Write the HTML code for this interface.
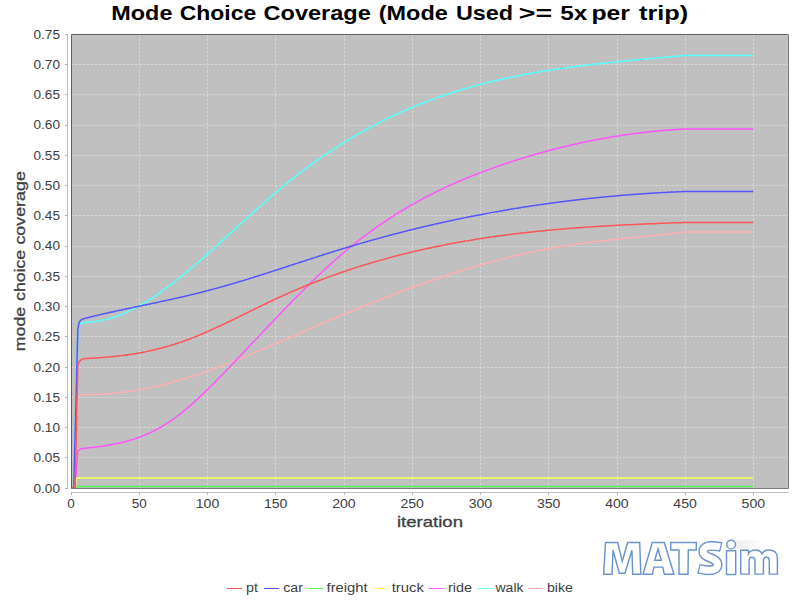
<!DOCTYPE html><html><head><meta charset="utf-8"><style>html,body{margin:0;padding:0;background:#fff;width:800px;height:600px;overflow:hidden}svg{display:block}text{font-family:"Liberation Sans",sans-serif}</style></head><body>
<svg width="800" height="600" viewBox="0 0 800 600">
<rect width="800" height="600" fill="#fff"/>
<g font-size="21" font-weight="bold" fill="#000">
<text x="111.36" y="20" textLength="61.02" lengthAdjust="spacingAndGlyphs">Mode</text>
<text x="179.78" y="20" textLength="76.48" lengthAdjust="spacingAndGlyphs">Choice</text>
<text x="263.62" y="20" textLength="107.18" lengthAdjust="spacingAndGlyphs">Coverage</text>
<text x="378.74" y="20" textLength="69.10" lengthAdjust="spacingAndGlyphs">(Mode</text>
<text x="455.90" y="20" textLength="57.20" lengthAdjust="spacingAndGlyphs">Used</text>
<text x="518.86" y="20" textLength="33.32" lengthAdjust="spacingAndGlyphs">&gt;=</text>
<text x="560.32" y="20" textLength="27.06" lengthAdjust="spacingAndGlyphs">5x</text>
<text x="591.48" y="20" textLength="38.52" lengthAdjust="spacingAndGlyphs">per</text>
<text x="639.08" y="20" textLength="49.18" lengthAdjust="spacingAndGlyphs">trip)</text>
</g>
<rect x="71" y="34" width="717" height="454" fill="#c0c0c0"/>
<path d="M71 457.5H788 M71 427.5H788 M71 397.5H788 M71 367.5H788 M71 336.5H788 M71 306.5H788 M71 276.5H788 M71 246.5H788 M71 215.5H788 M71 185.5H788 M71 155.5H788 M71 125.5H788 M71 94.5H788 M71 64.5H788 M71 34.5H788" stroke="#ffffff" stroke-opacity="0.45" stroke-width="1" stroke-dasharray="2 2" stroke-dashoffset="-0.4" fill="none"/>
<path d="M139.5 34V488 M207.5 34V488 M275.5 34V488 M344.5 34V488 M412.5 34V488 M480.5 34V488 M548.5 34V488 M617.5 34V488 M685.5 34V488 M753.5 34V488" stroke="#ffffff" stroke-opacity="0.45" stroke-width="1" stroke-dasharray="2 2" stroke-dashoffset="-0.6" fill="none"/>
<g fill="none" stroke-width="1.5" stroke-linejoin="round">
<polyline stroke="#ffafaf" points="71.00,488.00 75.09,488.00 77.82,398.41 79.19,396.29 80.55,395.38 81.92,394.96 84.65,394.48 86.01,394.49 87.38,394.50 88.74,394.50 90.11,394.49 91.47,394.48 92.84,394.45 94.20,394.43 95.57,394.39 96.93,394.34 98.30,394.29 99.66,394.23 101.02,394.17 102.39,394.10 103.75,394.02 105.12,393.93 106.48,393.84 107.85,393.75 109.21,393.65 110.58,393.54 111.94,393.42 113.31,393.30 114.67,393.17 116.04,393.04 117.40,392.90 118.77,392.75 120.13,392.60 121.50,392.43 122.86,392.27 124.23,392.09 125.59,391.91 126.96,391.73 128.32,391.53 129.68,391.34 131.05,391.13 132.41,390.92 133.78,390.70 135.14,390.48 136.51,390.25 137.87,390.01 139.24,389.77 140.60,389.53 141.97,389.27 143.33,389.02 144.70,388.75 146.06,388.48 147.43,388.21 148.79,387.92 150.16,387.64 151.52,387.35 152.89,387.05 154.25,386.75 155.62,386.44 156.98,386.12 158.34,385.80 159.71,385.48 161.07,385.15 162.44,384.82 163.80,384.48 165.17,384.13 166.53,383.78 167.90,383.43 169.26,383.07 170.63,382.70 171.99,382.34 173.36,381.96 174.72,381.58 176.09,381.20 177.45,380.81 178.82,380.42 180.18,380.02 181.55,379.62 182.91,379.21 184.28,378.80 185.64,378.39 187.00,377.97 188.37,377.55 189.73,377.12 191.10,376.69 192.46,376.25 193.83,375.81 195.19,375.37 196.56,374.92 197.92,374.47 199.29,374.01 200.65,373.55 202.02,373.09 203.38,372.62 204.75,372.15 206.11,371.67 207.48,371.19 208.84,370.71 210.21,370.23 211.57,369.74 212.94,369.24 214.30,368.75 215.66,368.25 217.03,367.74 218.39,367.24 219.76,366.73 221.12,366.22 222.49,365.70 223.85,365.18 225.22,364.66 226.58,364.13 227.95,363.61 229.31,363.08 230.68,362.54 232.04,362.00 233.41,361.46 234.77,360.92 236.14,360.38 237.50,359.83 238.87,359.28 240.23,358.73 241.60,358.17 242.96,357.61 244.32,357.06 245.69,356.49 247.05,355.93 248.42,355.36 249.78,354.79 251.15,354.22 252.51,353.65 253.88,353.08 255.24,352.50 256.61,351.93 257.97,351.35 259.34,350.77 260.70,350.19 262.07,349.60 263.43,349.02 264.80,348.43 266.16,347.85 267.53,347.26 268.89,346.67 270.26,346.08 271.62,345.49 272.98,344.90 274.35,344.31 275.71,343.71 277.08,343.12 278.44,342.52 279.81,341.93 281.17,341.34 282.54,340.74 283.90,340.14 285.27,339.55 286.63,338.95 288.00,338.36 289.36,337.76 290.73,337.16 292.09,336.57 293.46,335.97 294.82,335.38 296.19,334.78 297.55,334.19 298.92,333.59 300.28,333.00 301.64,332.40 303.01,331.81 304.37,331.22 305.74,330.63 307.10,330.04 308.47,329.45 309.83,328.86 311.20,328.27 312.56,327.68 313.93,327.09 315.29,326.51 316.66,325.92 318.02,325.33 319.39,324.75 320.75,324.16 322.12,323.58 323.48,323.00 324.85,322.42 326.21,321.83 327.58,321.25 328.94,320.68 330.30,320.10 331.67,319.52 333.03,318.94 334.40,318.37 335.76,317.79 337.13,317.22 338.49,316.64 339.86,316.07 341.22,315.50 342.59,314.93 343.95,314.36 345.32,313.79 346.68,313.23 348.05,312.66 349.41,312.09 350.78,311.53 352.14,310.97 353.51,310.40 354.87,309.84 356.24,309.28 357.60,308.73 358.96,308.17 360.33,307.61 361.69,307.06 363.06,306.50 364.42,305.95 365.79,305.40 367.15,304.85 368.52,304.30 369.88,303.75 371.25,303.21 372.61,302.66 373.98,302.12 375.34,301.58 376.71,301.03 378.07,300.50 379.44,299.96 380.80,299.42 382.17,298.88 383.53,298.35 384.90,297.82 386.26,297.29 387.62,296.76 388.99,296.23 390.35,295.70 391.72,295.18 393.08,294.65 394.45,294.13 395.81,293.61 397.18,293.09 398.54,292.57 399.91,292.06 401.27,291.54 402.64,291.03 404.00,290.52 405.37,290.01 406.73,289.50 408.10,289.00 409.46,288.49 410.83,287.99 412.19,287.49 413.56,286.99 414.92,286.50 416.28,286.00 417.65,285.51 419.01,285.01 420.38,284.52 421.74,284.04 423.11,283.55 424.47,283.07 425.84,282.58 427.20,282.10 428.57,281.62 429.93,281.15 431.30,280.67 432.66,280.20 434.03,279.73 435.39,279.26 436.76,278.79 438.12,278.33 439.49,277.86 440.85,277.40 442.22,276.94 443.58,276.49 444.94,276.03 446.31,275.58 447.67,275.13 449.04,274.68 450.40,274.23 451.77,273.79 453.13,273.35 454.50,272.91 455.86,272.47 457.23,272.04 458.59,271.60 459.96,271.17 461.32,270.74 462.69,270.32 464.05,269.89 465.42,269.47 466.78,269.05 468.15,268.64 469.51,268.22 470.88,267.81 472.24,267.40 473.60,266.99 474.97,266.59 476.33,266.18 477.70,265.78 479.06,265.39 480.43,264.99 481.79,264.60 483.16,264.21 484.52,263.82 485.89,263.44 487.25,263.05 488.62,262.67 489.98,262.30 491.35,261.92 492.71,261.55 494.08,261.18 495.44,260.81 496.81,260.45 498.17,260.09 499.54,259.73 500.90,259.37 502.26,259.02 503.63,258.67 504.99,258.32 506.36,257.97 507.72,257.63 509.09,257.29 510.45,256.95 511.82,256.62 513.18,256.29 514.55,255.96 515.91,255.63 517.28,255.31 518.64,254.99 520.01,254.67 521.37,254.36 522.74,254.05 524.10,253.74 525.47,253.43 526.83,253.13 528.20,252.83 529.56,252.53 530.92,252.24 532.29,251.95 533.65,251.66 535.02,251.38 536.38,251.10 537.75,250.82 539.11,250.54 540.48,250.27 541.84,250.00 543.21,249.74 544.57,249.48 545.94,249.22 547.30,248.96 548.67,248.71 550.03,248.46 551.40,248.21 552.76,247.97 554.13,247.73 555.49,247.49 556.86,247.26 558.22,247.03 559.58,246.80 560.95,246.57 562.31,246.35 563.68,246.13 565.04,245.91 566.41,245.70 567.77,245.49 569.14,245.28 570.50,245.07 571.87,244.87 573.23,244.66 574.60,244.47 575.96,244.27 577.33,244.07 578.69,243.88 580.06,243.69 581.42,243.50 582.79,243.32 584.15,243.13 585.52,242.95 586.88,242.77 588.24,242.59 589.61,242.42 590.97,242.24 592.34,242.07 593.70,241.90 595.07,241.73 596.43,241.56 597.80,241.40 599.16,241.23 600.53,241.07 601.89,240.91 603.26,240.75 604.62,240.59 605.99,240.43 607.35,240.27 608.72,240.12 610.08,239.97 611.45,239.81 612.81,239.66 614.18,239.51 615.54,239.36 616.90,239.21 618.27,239.07 619.63,238.92 621.00,238.77 622.36,238.63 623.73,238.49 625.09,238.34 626.46,238.20 627.82,238.06 629.19,237.91 630.55,237.77 631.92,237.63 633.28,237.49 634.65,237.35 636.01,237.21 637.38,237.07 638.74,236.93 640.11,236.79 641.47,236.66 642.84,236.52 644.20,236.38 645.56,236.24 646.93,236.10 648.29,235.96 649.66,235.82 651.02,235.68 652.39,235.54 653.75,235.40 655.12,235.26 656.48,235.12 657.85,234.98 659.21,234.84 660.58,234.70 661.94,234.56 663.31,234.41 664.67,234.27 666.04,234.13 667.40,233.98 668.77,233.83 670.13,233.69 671.50,233.54 672.86,233.39 674.22,233.24 675.59,233.09 676.95,232.94 678.32,232.79 679.68,232.63 681.05,232.48 682.41,232.32 683.78,232.16 685.14,232.00 753.38,232.00"/>
<polyline stroke="#55ffff" points="71.00,488.00 73.73,488.00 77.82,329.40 79.19,324.86 80.55,323.65 81.92,323.05 84.65,322.32 86.01,322.30 87.38,322.26 88.74,322.20 90.11,322.11 91.47,322.00 92.84,321.87 94.20,321.71 95.57,321.54 96.93,321.34 98.30,321.12 99.66,320.88 101.02,320.61 102.39,320.33 103.75,320.02 105.12,319.70 106.48,319.37 107.85,319.01 109.21,318.64 110.58,318.25 111.94,317.83 113.31,317.40 114.67,316.95 116.04,316.48 117.40,315.99 118.77,315.49 120.13,314.96 121.50,314.42 122.86,313.86 124.23,313.28 125.59,312.69 126.96,312.08 128.32,311.45 129.68,310.80 131.05,310.14 132.41,309.46 133.78,308.77 135.14,308.06 136.51,307.33 137.87,306.59 139.24,305.84 140.60,305.07 141.97,304.28 143.33,303.48 144.70,302.67 146.06,301.84 147.43,301.00 148.79,300.15 150.16,299.28 151.52,298.40 152.89,297.51 154.25,296.60 155.62,295.68 156.98,294.75 158.34,293.81 159.71,292.85 161.07,291.89 162.44,290.91 163.80,289.92 165.17,288.92 166.53,287.92 167.90,286.90 169.26,285.87 170.63,284.83 171.99,283.78 173.36,282.72 174.72,281.65 176.09,280.57 177.45,279.49 178.82,278.39 180.18,277.29 181.55,276.18 182.91,275.07 184.28,273.94 185.64,272.81 187.00,271.67 188.37,270.52 189.73,269.37 191.10,268.21 192.46,267.05 193.83,265.88 195.19,264.70 196.56,263.52 197.92,262.33 199.29,261.14 200.65,259.95 202.02,258.75 203.38,257.54 204.75,256.33 206.11,255.12 207.48,253.90 208.84,252.69 210.21,251.46 211.57,250.24 212.94,249.01 214.30,247.78 215.66,246.55 217.03,245.32 218.39,244.08 219.76,242.84 221.12,241.60 222.49,240.36 223.85,239.12 225.22,237.88 226.58,236.63 227.95,235.39 229.31,234.14 230.68,232.89 232.04,231.65 233.41,230.40 234.77,229.15 236.14,227.91 237.50,226.66 238.87,225.42 240.23,224.17 241.60,222.93 242.96,221.68 244.32,220.44 245.69,219.20 247.05,217.97 248.42,216.73 249.78,215.49 251.15,214.26 252.51,213.03 253.88,211.81 255.24,210.58 256.61,209.36 257.97,208.14 259.34,206.92 260.70,205.71 262.07,204.50 263.43,203.30 264.80,202.10 266.16,200.90 267.53,199.71 268.89,198.52 270.26,197.34 271.62,196.16 272.98,194.98 274.35,193.81 275.71,192.65 277.08,191.49 278.44,190.34 279.81,189.19 281.17,188.05 282.54,186.91 283.90,185.79 285.27,184.66 286.63,183.55 288.00,182.44 289.36,181.34 290.73,180.24 292.09,179.15 293.46,178.07 294.82,176.99 296.19,175.92 297.55,174.86 298.92,173.81 300.28,172.76 301.64,171.71 303.01,170.68 304.37,169.65 305.74,168.62 307.10,167.61 308.47,166.60 309.83,165.59 311.20,164.60 312.56,163.60 313.93,162.62 315.29,161.64 316.66,160.67 318.02,159.70 319.39,158.74 320.75,157.79 322.12,156.84 323.48,155.90 324.85,154.97 326.21,154.04 327.58,153.12 328.94,152.20 330.30,151.29 331.67,150.39 333.03,149.49 334.40,148.60 335.76,147.72 337.13,146.84 338.49,145.97 339.86,145.10 341.22,144.24 342.59,143.38 343.95,142.54 345.32,141.69 346.68,140.86 348.05,140.03 349.41,139.20 350.78,138.38 352.14,137.57 353.51,136.76 354.87,135.96 356.24,135.17 357.60,134.38 358.96,133.59 360.33,132.82 361.69,132.05 363.06,131.28 364.42,130.52 365.79,129.77 367.15,129.02 368.52,128.27 369.88,127.54 371.25,126.80 372.61,126.08 373.98,125.36 375.34,124.64 376.71,123.94 378.07,123.23 379.44,122.53 380.80,121.84 382.17,121.15 383.53,120.47 384.90,119.80 386.26,119.13 387.62,118.46 388.99,117.80 390.35,117.15 391.72,116.50 393.08,115.86 394.45,115.22 395.81,114.58 397.18,113.96 398.54,113.33 399.91,112.72 401.27,112.10 402.64,111.50 404.00,110.89 405.37,110.30 406.73,109.70 408.10,109.12 409.46,108.53 410.83,107.96 412.19,107.38 413.56,106.82 414.92,106.25 416.28,105.70 417.65,105.14 419.01,104.59 420.38,104.05 421.74,103.51 423.11,102.98 424.47,102.45 425.84,101.92 427.20,101.40 428.57,100.89 429.93,100.38 431.30,99.87 432.66,99.37 434.03,98.87 435.39,98.38 436.76,97.89 438.12,97.40 439.49,96.92 440.85,96.45 442.22,95.98 443.58,95.51 444.94,95.05 446.31,94.59 447.67,94.14 449.04,93.69 450.40,93.24 451.77,92.80 453.13,92.36 454.50,91.93 455.86,91.50 457.23,91.07 458.59,90.65 459.96,90.23 461.32,89.82 462.69,89.41 464.05,89.01 465.42,88.60 466.78,88.21 468.15,87.81 469.51,87.42 470.88,87.04 472.24,86.65 473.60,86.27 474.97,85.90 476.33,85.53 477.70,85.16 479.06,84.79 480.43,84.43 481.79,84.08 483.16,83.72 484.52,83.37 485.89,83.03 487.25,82.68 488.62,82.34 489.98,82.01 491.35,81.67 492.71,81.34 494.08,81.02 495.44,80.69 496.81,80.37 498.17,80.06 499.54,79.74 500.90,79.43 502.26,79.12 503.63,78.82 504.99,78.52 506.36,78.22 507.72,77.93 509.09,77.63 510.45,77.35 511.82,77.06 513.18,76.78 514.55,76.50 515.91,76.22 517.28,75.94 518.64,75.67 520.01,75.40 521.37,75.14 522.74,74.87 524.10,74.61 525.47,74.36 526.83,74.10 528.20,73.85 529.56,73.60 530.92,73.35 532.29,73.11 533.65,72.86 535.02,72.62 536.38,72.39 537.75,72.15 539.11,71.92 540.48,71.69 541.84,71.46 543.21,71.24 544.57,71.01 545.94,70.79 547.30,70.58 548.67,70.36 550.03,70.15 551.40,69.93 552.76,69.72 554.13,69.52 555.49,69.31 556.86,69.11 558.22,68.91 559.58,68.71 560.95,68.51 562.31,68.31 563.68,68.12 565.04,67.93 566.41,67.74 567.77,67.55 569.14,67.37 570.50,67.18 571.87,67.00 573.23,66.82 574.60,66.64 575.96,66.47 577.33,66.29 578.69,66.12 580.06,65.94 581.42,65.77 582.79,65.60 584.15,65.44 585.52,65.27 586.88,65.11 588.24,64.94 589.61,64.78 590.97,64.62 592.34,64.47 593.70,64.31 595.07,64.15 596.43,64.00 597.80,63.85 599.16,63.69 600.53,63.54 601.89,63.39 603.26,63.25 604.62,63.10 605.99,62.95 607.35,62.81 608.72,62.67 610.08,62.52 611.45,62.38 612.81,62.24 614.18,62.10 615.54,61.96 616.90,61.82 618.27,61.69 619.63,61.55 621.00,61.42 622.36,61.28 623.73,61.15 625.09,61.01 626.46,60.88 627.82,60.75 629.19,60.62 630.55,60.49 631.92,60.36 633.28,60.23 634.65,60.10 636.01,59.97 637.38,59.85 638.74,59.72 640.11,59.59 641.47,59.47 642.84,59.34 644.20,59.22 645.56,59.09 646.93,58.97 648.29,58.84 649.66,58.72 651.02,58.59 652.39,58.47 653.75,58.35 655.12,58.22 656.48,58.10 657.85,57.97 659.21,57.85 660.58,57.73 661.94,57.61 663.31,57.48 664.67,57.36 666.04,57.24 667.40,57.11 668.77,56.99 670.13,56.87 671.50,56.74 672.86,56.62 674.22,56.49 675.59,56.37 676.95,56.24 678.32,56.12 679.68,55.99 681.05,55.87 682.41,55.74 683.78,55.62 685.14,55.49 753.38,55.49"/>
<polyline stroke="#ff55ff" points="71.00,488.00 75.09,488.00 77.82,451.38 79.19,449.86 80.55,449.08 81.92,448.65 84.65,448.29 86.01,448.14 87.38,448.00 88.74,447.85 90.11,447.69 91.47,447.54 92.84,447.38 94.20,447.22 95.57,447.05 96.93,446.88 98.30,446.70 99.66,446.52 101.02,446.33 102.39,446.14 103.75,445.94 105.12,445.73 106.48,445.52 107.85,445.30 109.21,445.07 110.58,444.83 111.94,444.59 113.31,444.33 114.67,444.07 116.04,443.79 117.40,443.51 118.77,443.21 120.13,442.90 121.50,442.58 122.86,442.26 124.23,441.91 125.59,441.56 126.96,441.19 128.32,440.81 129.68,440.42 131.05,440.02 132.41,439.60 133.78,439.16 135.14,438.71 136.51,438.25 137.87,437.77 139.24,437.28 140.60,436.77 141.97,436.24 143.33,435.70 144.70,435.14 146.06,434.56 147.43,433.97 148.79,433.36 150.16,432.73 151.52,432.08 152.89,431.42 154.25,430.73 155.62,430.03 156.98,429.30 158.34,428.56 159.71,427.79 161.07,427.01 162.44,426.20 163.80,425.37 165.17,424.52 166.53,423.65 167.90,422.76 169.26,421.85 170.63,420.92 171.99,419.97 173.36,419.00 174.72,418.01 176.09,417.00 177.45,415.98 178.82,414.93 180.18,413.87 181.55,412.79 182.91,411.70 184.28,410.59 185.64,409.46 187.00,408.32 188.37,407.17 189.73,405.99 191.10,404.81 192.46,403.61 193.83,402.40 195.19,401.17 196.56,399.93 197.92,398.68 199.29,397.42 200.65,396.14 202.02,394.86 203.38,393.56 204.75,392.26 206.11,390.94 207.48,389.61 208.84,388.28 210.21,386.93 211.57,385.58 212.94,384.22 214.30,382.85 215.66,381.48 217.03,380.10 218.39,378.71 219.76,377.31 221.12,375.91 222.49,374.51 223.85,373.10 225.22,371.68 226.58,370.26 227.95,368.84 229.31,367.41 230.68,365.98 232.04,364.55 233.41,363.12 234.77,361.68 236.14,360.24 237.50,358.80 238.87,357.36 240.23,355.92 241.60,354.48 242.96,353.03 244.32,351.59 245.69,350.14 247.05,348.70 248.42,347.25 249.78,345.80 251.15,344.35 252.51,342.91 253.88,341.46 255.24,340.01 256.61,338.56 257.97,337.12 259.34,335.67 260.70,334.22 262.07,332.78 263.43,331.33 264.80,329.89 266.16,328.45 267.53,327.01 268.89,325.57 270.26,324.13 271.62,322.70 272.98,321.26 274.35,319.83 275.71,318.40 277.08,316.97 278.44,315.55 279.81,314.12 281.17,312.70 282.54,311.29 283.90,309.87 285.27,308.46 286.63,307.05 288.00,305.65 289.36,304.24 290.73,302.84 292.09,301.45 293.46,300.06 294.82,298.67 296.19,297.29 297.55,295.91 298.92,294.54 300.28,293.17 301.64,291.80 303.01,290.44 304.37,289.08 305.74,287.73 307.10,286.39 308.47,285.05 309.83,283.71 311.20,282.38 312.56,281.06 313.93,279.74 315.29,278.43 316.66,277.12 318.02,275.82 319.39,274.52 320.75,273.24 322.12,271.95 323.48,270.68 324.85,269.41 326.21,268.15 327.58,266.90 328.94,265.65 330.30,264.41 331.67,263.18 333.03,261.96 334.40,260.74 335.76,259.53 337.13,258.33 338.49,257.14 339.86,255.95 341.22,254.78 342.59,253.61 343.95,252.45 345.32,251.30 346.68,250.16 348.05,249.02 349.41,247.90 350.78,246.78 352.14,245.68 353.51,244.58 354.87,243.49 356.24,242.40 357.60,241.33 358.96,240.26 360.33,239.21 361.69,238.16 363.06,237.12 364.42,236.08 365.79,235.06 367.15,234.04 368.52,233.03 369.88,232.03 371.25,231.04 372.61,230.05 373.98,229.07 375.34,228.10 376.71,227.14 378.07,226.19 379.44,225.24 380.80,224.30 382.17,223.37 383.53,222.44 384.90,221.52 386.26,220.61 387.62,219.71 388.99,218.81 390.35,217.92 391.72,217.04 393.08,216.17 394.45,215.30 395.81,214.44 397.18,213.58 398.54,212.74 399.91,211.90 401.27,211.06 402.64,210.24 404.00,209.42 405.37,208.60 406.73,207.80 408.10,207.00 409.46,206.20 410.83,205.41 412.19,204.63 413.56,203.86 414.92,203.09 416.28,202.33 417.65,201.57 419.01,200.82 420.38,200.08 421.74,199.34 423.11,198.61 424.47,197.88 425.84,197.16 427.20,196.45 428.57,195.74 429.93,195.04 431.30,194.34 432.66,193.65 434.03,192.96 435.39,192.28 436.76,191.61 438.12,190.94 439.49,190.28 440.85,189.62 442.22,188.97 443.58,188.32 444.94,187.68 446.31,187.04 447.67,186.41 449.04,185.78 450.40,185.16 451.77,184.54 453.13,183.93 454.50,183.32 455.86,182.72 457.23,182.12 458.59,181.53 459.96,180.94 461.32,180.36 462.69,179.78 464.05,179.20 465.42,178.63 466.78,178.07 468.15,177.51 469.51,176.95 470.88,176.40 472.24,175.85 473.60,175.30 474.97,174.76 476.33,174.23 477.70,173.70 479.06,173.17 480.43,172.65 481.79,172.13 483.16,171.61 484.52,171.10 485.89,170.59 487.25,170.09 488.62,169.58 489.98,169.09 491.35,168.59 492.71,168.10 494.08,167.62 495.44,167.13 496.81,166.65 498.17,166.18 499.54,165.70 500.90,165.23 502.26,164.77 503.63,164.30 504.99,163.84 506.36,163.39 507.72,162.93 509.09,162.48 510.45,162.03 511.82,161.59 513.18,161.14 514.55,160.70 515.91,160.27 517.28,159.83 518.64,159.40 520.01,158.97 521.37,158.55 522.74,158.13 524.10,157.71 525.47,157.29 526.83,156.88 528.20,156.47 529.56,156.06 530.92,155.66 532.29,155.26 533.65,154.86 535.02,154.46 536.38,154.07 537.75,153.68 539.11,153.30 540.48,152.91 541.84,152.53 543.21,152.15 544.57,151.78 545.94,151.41 547.30,151.04 548.67,150.67 550.03,150.31 551.40,149.95 552.76,149.59 554.13,149.24 555.49,148.89 556.86,148.54 558.22,148.19 559.58,147.85 560.95,147.51 562.31,147.18 563.68,146.84 565.04,146.51 566.41,146.19 567.77,145.86 569.14,145.54 570.50,145.22 571.87,144.91 573.23,144.59 574.60,144.28 575.96,143.98 577.33,143.67 578.69,143.37 580.06,143.07 581.42,142.78 582.79,142.49 584.15,142.20 585.52,141.91 586.88,141.63 588.24,141.35 589.61,141.07 590.97,140.80 592.34,140.52 593.70,140.26 595.07,139.99 596.43,139.73 597.80,139.47 599.16,139.21 600.53,138.96 601.89,138.71 603.26,138.46 604.62,138.21 605.99,137.97 607.35,137.73 608.72,137.50 610.08,137.26 611.45,137.03 612.81,136.80 614.18,136.58 615.54,136.36 616.90,136.14 618.27,135.92 619.63,135.71 621.00,135.50 622.36,135.30 623.73,135.09 625.09,134.89 626.46,134.69 627.82,134.50 629.19,134.31 630.55,134.12 631.92,133.93 633.28,133.75 634.65,133.57 636.01,133.39 637.38,133.22 638.74,133.05 640.11,132.88 641.47,132.71 642.84,132.55 644.20,132.39 645.56,132.23 646.93,132.08 648.29,131.93 649.66,131.78 651.02,131.64 652.39,131.50 653.75,131.36 655.12,131.22 656.48,131.09 657.85,130.96 659.21,130.83 660.58,130.71 661.94,130.59 663.31,130.47 664.67,130.35 666.04,130.24 667.40,130.13 668.77,130.02 670.13,129.92 671.50,129.82 672.86,129.72 674.22,129.63 675.59,129.54 676.95,129.45 678.32,129.36 679.68,129.28 681.05,129.20 682.41,129.12 683.78,129.05 685.14,128.98 753.38,128.98"/>
<polyline stroke="#ffff55" points="71.00,488.00 75.09,488.00 76.46,478.00 753.38,478.00"/>
<polyline stroke="#55ff55" points="71.00,488.00 75.09,488.00 76.46,486.50 753.38,486.50"/>
<polyline stroke="#5555ff" points="71.00,488.00 73.73,488.00 77.82,329.40 79.19,322.44 80.55,320.44 81.92,319.41 84.65,318.45 86.01,318.10 87.38,317.76 88.74,317.42 90.11,317.09 91.47,316.75 92.84,316.42 94.20,316.09 95.57,315.76 96.93,315.43 98.30,315.11 99.66,314.78 101.02,314.46 102.39,314.14 103.75,313.82 105.12,313.50 106.48,313.20 107.85,312.90 109.21,312.60 110.58,312.30 111.94,312.00 113.31,311.70 114.67,311.41 116.04,311.11 117.40,310.82 118.77,310.52 120.13,310.23 121.50,309.94 122.86,309.65 124.23,309.36 125.59,309.07 126.96,308.78 128.32,308.49 129.68,308.21 131.05,307.92 132.41,307.63 133.78,307.34 135.14,307.06 136.51,306.77 137.87,306.48 139.24,306.20 140.60,305.91 141.97,305.62 143.33,305.34 144.70,305.05 146.06,304.76 147.43,304.48 148.79,304.19 150.16,303.90 151.52,303.61 152.89,303.32 154.25,303.03 155.62,302.74 156.98,302.45 158.34,302.16 159.71,301.87 161.07,301.57 162.44,301.28 163.80,300.98 165.17,300.69 166.53,300.39 167.90,300.09 169.26,299.79 170.63,299.49 171.99,299.19 173.36,298.89 174.72,298.58 176.09,298.28 177.45,297.97 178.82,297.66 180.18,297.35 181.55,297.03 182.91,296.72 184.28,296.40 185.64,296.09 187.00,295.77 188.37,295.44 189.73,295.12 191.10,294.79 192.46,294.46 193.83,294.13 195.19,293.80 196.56,293.47 197.92,293.13 199.29,292.79 200.65,292.45 202.02,292.10 203.38,291.76 204.75,291.41 206.11,291.05 207.48,290.70 208.84,290.34 210.21,289.98 211.57,289.61 212.94,289.25 214.30,288.88 215.66,288.51 217.03,288.13 218.39,287.76 219.76,287.38 221.12,287.00 222.49,286.61 223.85,286.23 225.22,285.84 226.58,285.45 227.95,285.05 229.31,284.66 230.68,284.26 232.04,283.86 233.41,283.46 234.77,283.06 236.14,282.65 237.50,282.25 238.87,281.84 240.23,281.43 241.60,281.02 242.96,280.60 244.32,280.19 245.69,279.77 247.05,279.35 248.42,278.93 249.78,278.51 251.15,278.09 252.51,277.66 253.88,277.23 255.24,276.81 256.61,276.38 257.97,275.95 259.34,275.52 260.70,275.09 262.07,274.65 263.43,274.22 264.80,273.78 266.16,273.35 267.53,272.91 268.89,272.47 270.26,272.04 271.62,271.60 272.98,271.16 274.35,270.71 275.71,270.27 277.08,269.83 278.44,269.39 279.81,268.95 281.17,268.50 282.54,268.06 283.90,267.61 285.27,267.17 286.63,266.72 288.00,266.28 289.36,265.83 290.73,265.39 292.09,264.94 293.46,264.50 294.82,264.05 296.19,263.61 297.55,263.16 298.92,262.72 300.28,262.27 301.64,261.83 303.01,261.38 304.37,260.94 305.74,260.49 307.10,260.05 308.47,259.60 309.83,259.16 311.20,258.72 312.56,258.28 313.93,257.84 315.29,257.40 316.66,256.96 318.02,256.52 319.39,256.08 320.75,255.64 322.12,255.20 323.48,254.77 324.85,254.33 326.21,253.90 327.58,253.47 328.94,253.04 330.30,252.60 331.67,252.18 333.03,251.75 334.40,251.32 335.76,250.89 337.13,250.47 338.49,250.05 339.86,249.63 341.22,249.21 342.59,248.79 343.95,248.37 345.32,247.96 346.68,247.54 348.05,247.13 349.41,246.72 350.78,246.31 352.14,245.91 353.51,245.50 354.87,245.10 356.24,244.69 357.60,244.29 358.96,243.89 360.33,243.50 361.69,243.10 363.06,242.71 364.42,242.31 365.79,241.92 367.15,241.53 368.52,241.15 369.88,240.76 371.25,240.38 372.61,239.99 373.98,239.61 375.34,239.23 376.71,238.85 378.07,238.48 379.44,238.10 380.80,237.73 382.17,237.36 383.53,236.99 384.90,236.62 386.26,236.25 387.62,235.88 388.99,235.52 390.35,235.16 391.72,234.80 393.08,234.44 394.45,234.08 395.81,233.72 397.18,233.37 398.54,233.02 399.91,232.67 401.27,232.32 402.64,231.97 404.00,231.62 405.37,231.28 406.73,230.93 408.10,230.59 409.46,230.25 410.83,229.91 412.19,229.57 413.56,229.24 414.92,228.90 416.28,228.57 417.65,228.24 419.01,227.91 420.38,227.58 421.74,227.26 423.11,226.93 424.47,226.61 425.84,226.29 427.20,225.97 428.57,225.65 429.93,225.33 431.30,225.01 432.66,224.70 434.03,224.39 435.39,224.08 436.76,223.77 438.12,223.46 439.49,223.15 440.85,222.85 442.22,222.54 443.58,222.24 444.94,221.94 446.31,221.64 447.67,221.34 449.04,221.05 450.40,220.75 451.77,220.46 453.13,220.17 454.50,219.88 455.86,219.59 457.23,219.31 458.59,219.02 459.96,218.74 461.32,218.45 462.69,218.17 464.05,217.89 465.42,217.62 466.78,217.34 468.15,217.07 469.51,216.79 470.88,216.52 472.24,216.25 473.60,215.98 474.97,215.71 476.33,215.45 477.70,215.18 479.06,214.92 480.43,214.66 481.79,214.40 483.16,214.14 484.52,213.89 485.89,213.63 487.25,213.38 488.62,213.12 489.98,212.87 491.35,212.62 492.71,212.38 494.08,212.13 495.44,211.88 496.81,211.64 498.17,211.40 499.54,211.16 500.90,210.92 502.26,210.68 503.63,210.44 504.99,210.21 506.36,209.98 507.72,209.74 509.09,209.51 510.45,209.29 511.82,209.06 513.18,208.83 514.55,208.61 515.91,208.38 517.28,208.16 518.64,207.94 520.01,207.72 521.37,207.51 522.74,207.29 524.10,207.08 525.47,206.86 526.83,206.65 528.20,206.44 529.56,206.23 530.92,206.03 532.29,205.82 533.65,205.62 535.02,205.41 536.38,205.21 537.75,205.01 539.11,204.81 540.48,204.62 541.84,204.42 543.21,204.23 544.57,204.03 545.94,203.84 547.30,203.65 548.67,203.46 550.03,203.28 551.40,203.09 552.76,202.91 554.13,202.72 555.49,202.54 556.86,202.36 558.22,202.18 559.58,202.00 560.95,201.83 562.31,201.65 563.68,201.48 565.04,201.31 566.41,201.14 567.77,200.97 569.14,200.80 570.50,200.64 571.87,200.47 573.23,200.31 574.60,200.15 575.96,199.99 577.33,199.83 578.69,199.67 580.06,199.51 581.42,199.36 582.79,199.20 584.15,199.05 585.52,198.90 586.88,198.75 588.24,198.60 589.61,198.46 590.97,198.31 592.34,198.17 593.70,198.02 595.07,197.88 596.43,197.74 597.80,197.60 599.16,197.47 600.53,197.33 601.89,197.19 603.26,197.06 604.62,196.93 605.99,196.80 607.35,196.67 608.72,196.54 610.08,196.41 611.45,196.29 612.81,196.17 614.18,196.04 615.54,195.92 616.90,195.80 618.27,195.68 619.63,195.57 621.00,195.45 622.36,195.34 623.73,195.22 625.09,195.11 626.46,195.00 627.82,194.89 629.19,194.79 630.55,194.68 631.92,194.57 633.28,194.47 634.65,194.37 636.01,194.27 637.38,194.17 638.74,194.07 640.11,193.97 641.47,193.88 642.84,193.78 644.20,193.69 645.56,193.60 646.93,193.51 648.29,193.42 649.66,193.33 651.02,193.24 652.39,193.16 653.75,193.07 655.12,192.99 656.48,192.91 657.85,192.83 659.21,192.75 660.58,192.68 661.94,192.60 663.31,192.53 664.67,192.45 666.04,192.38 667.40,192.31 668.77,192.24 670.13,192.17 671.50,192.10 672.86,192.04 674.22,191.98 675.59,191.91 676.95,191.85 678.32,191.79 679.68,191.73 681.05,191.67 682.41,191.62 683.78,191.56 685.14,191.51 753.38,191.51"/>
<polyline stroke="#ff5555" points="71.00,488.00 75.09,488.00 77.82,365.12 79.19,361.79 80.55,360.15 81.92,359.37 84.65,358.58 86.01,358.52 87.38,358.46 88.74,358.39 90.11,358.32 91.47,358.25 92.84,358.17 94.20,358.09 95.57,358.00 96.93,357.91 98.30,357.81 99.66,357.71 101.02,357.61 102.39,357.50 103.75,357.39 105.12,357.27 106.48,357.16 107.85,357.05 109.21,356.93 110.58,356.81 111.94,356.68 113.31,356.54 114.67,356.40 116.04,356.26 117.40,356.11 118.77,355.96 120.13,355.80 121.50,355.63 122.86,355.46 124.23,355.28 125.59,355.10 126.96,354.91 128.32,354.72 129.68,354.52 131.05,354.31 132.41,354.10 133.78,353.88 135.14,353.66 136.51,353.43 137.87,353.19 139.24,352.95 140.60,352.70 141.97,352.45 143.33,352.18 144.70,351.92 146.06,351.64 147.43,351.36 148.79,351.07 150.16,350.77 151.52,350.47 152.89,350.16 154.25,349.85 155.62,349.52 156.98,349.19 158.34,348.85 159.71,348.51 161.07,348.15 162.44,347.79 163.80,347.43 165.17,347.05 166.53,346.67 167.90,346.28 169.26,345.88 170.63,345.47 171.99,345.06 173.36,344.63 174.72,344.20 176.09,343.76 177.45,343.32 178.82,342.86 180.18,342.40 181.55,341.93 182.91,341.45 184.28,340.96 185.64,340.46 187.00,339.96 188.37,339.45 189.73,338.93 191.10,338.40 192.46,337.87 193.83,337.33 195.19,336.78 196.56,336.23 197.92,335.67 199.29,335.11 200.65,334.54 202.02,333.96 203.38,333.38 204.75,332.79 206.11,332.19 207.48,331.60 208.84,330.99 210.21,330.38 211.57,329.77 212.94,329.15 214.30,328.53 215.66,327.91 217.03,327.28 218.39,326.64 219.76,326.01 221.12,325.37 222.49,324.72 223.85,324.07 225.22,323.43 226.58,322.77 227.95,322.12 229.31,321.46 230.68,320.80 232.04,320.14 233.41,319.48 234.77,318.81 236.14,318.14 237.50,317.48 238.87,316.81 240.23,316.14 241.60,315.47 242.96,314.80 244.32,314.12 245.69,313.45 247.05,312.78 248.42,312.11 249.78,311.43 251.15,310.76 252.51,310.09 253.88,309.42 255.24,308.75 256.61,308.08 257.97,307.41 259.34,306.75 260.70,306.08 262.07,305.42 263.43,304.76 264.80,304.10 266.16,303.45 267.53,302.79 268.89,302.14 270.26,301.49 271.62,300.85 272.98,300.21 274.35,299.57 275.71,298.93 277.08,298.30 278.44,297.67 279.81,297.05 281.17,296.43 282.54,295.81 283.90,295.19 285.27,294.58 286.63,293.98 288.00,293.37 289.36,292.78 290.73,292.18 292.09,291.59 293.46,291.00 294.82,290.41 296.19,289.83 297.55,289.25 298.92,288.68 300.28,288.11 301.64,287.54 303.01,286.97 304.37,286.41 305.74,285.85 307.10,285.30 308.47,284.75 309.83,284.20 311.20,283.66 312.56,283.12 313.93,282.58 315.29,282.05 316.66,281.51 318.02,280.99 319.39,280.46 320.75,279.94 322.12,279.42 323.48,278.91 324.85,278.40 326.21,277.89 327.58,277.39 328.94,276.89 330.30,276.39 331.67,275.89 333.03,275.40 334.40,274.91 335.76,274.43 337.13,273.94 338.49,273.47 339.86,272.99 341.22,272.52 342.59,272.05 343.95,271.58 345.32,271.12 346.68,270.66 348.05,270.20 349.41,269.75 350.78,269.29 352.14,268.85 353.51,268.40 354.87,267.96 356.24,267.52 357.60,267.08 358.96,266.65 360.33,266.22 361.69,265.79 363.06,265.37 364.42,264.95 365.79,264.53 367.15,264.11 368.52,263.70 369.88,263.29 371.25,262.88 372.61,262.48 373.98,262.08 375.34,261.68 376.71,261.28 378.07,260.89 379.44,260.50 380.80,260.11 382.17,259.73 383.53,259.35 384.90,258.97 386.26,258.59 387.62,258.22 388.99,257.85 390.35,257.48 391.72,257.12 393.08,256.75 394.45,256.39 395.81,256.04 397.18,255.68 398.54,255.33 399.91,254.98 401.27,254.63 402.64,254.29 404.00,253.95 405.37,253.61 406.73,253.27 408.10,252.94 409.46,252.61 410.83,252.28 412.19,251.96 413.56,251.63 414.92,251.31 416.28,250.99 417.65,250.68 419.01,250.36 420.38,250.05 421.74,249.74 423.11,249.44 424.47,249.14 425.84,248.83 427.20,248.54 428.57,248.24 429.93,247.94 431.30,247.65 432.66,247.36 434.03,247.08 435.39,246.79 436.76,246.51 438.12,246.23 439.49,245.95 440.85,245.68 442.22,245.41 443.58,245.13 444.94,244.87 446.31,244.60 447.67,244.34 449.04,244.07 450.40,243.82 451.77,243.56 453.13,243.30 454.50,243.05 455.86,242.80 457.23,242.55 458.59,242.30 459.96,242.06 461.32,241.82 462.69,241.58 464.05,241.34 465.42,241.10 466.78,240.87 468.15,240.64 469.51,240.41 470.88,240.18 472.24,239.96 473.60,239.73 474.97,239.51 476.33,239.29 477.70,239.08 479.06,238.86 480.43,238.65 481.79,238.44 483.16,238.23 484.52,238.02 485.89,237.81 487.25,237.61 488.62,237.41 489.98,237.21 491.35,237.01 492.71,236.81 494.08,236.62 495.44,236.43 496.81,236.24 498.17,236.05 499.54,235.86 500.90,235.67 502.26,235.49 503.63,235.31 504.99,235.13 506.36,234.95 507.72,234.78 509.09,234.60 510.45,234.43 511.82,234.26 513.18,234.09 514.55,233.92 515.91,233.75 517.28,233.59 518.64,233.43 520.01,233.27 521.37,233.11 522.74,232.95 524.10,232.79 525.47,232.64 526.83,232.48 528.20,232.33 529.56,232.18 530.92,232.03 532.29,231.89 533.65,231.74 535.02,231.60 536.38,231.46 537.75,231.32 539.11,231.18 540.48,231.04 541.84,230.90 543.21,230.77 544.57,230.63 545.94,230.50 547.30,230.37 548.67,230.24 550.03,230.12 551.40,229.99 552.76,229.86 554.13,229.74 555.49,229.62 556.86,229.50 558.22,229.38 559.58,229.26 560.95,229.14 562.31,229.03 563.68,228.91 565.04,228.80 566.41,228.69 567.77,228.58 569.14,228.47 570.50,228.36 571.87,228.25 573.23,228.15 574.60,228.04 575.96,227.94 577.33,227.84 578.69,227.74 580.06,227.64 581.42,227.54 582.79,227.44 584.15,227.34 585.52,227.25 586.88,227.15 588.24,227.06 589.61,226.97 590.97,226.88 592.34,226.79 593.70,226.70 595.07,226.61 596.43,226.52 597.80,226.44 599.16,226.35 600.53,226.27 601.89,226.18 603.26,226.10 604.62,226.02 605.99,225.94 607.35,225.86 608.72,225.78 610.08,225.71 611.45,225.63 612.81,225.55 614.18,225.48 615.54,225.40 616.90,225.33 618.27,225.26 619.63,225.19 621.00,225.12 622.36,225.05 623.73,224.98 625.09,224.91 626.46,224.84 627.82,224.78 629.19,224.71 630.55,224.64 631.92,224.58 633.28,224.52 634.65,224.45 636.01,224.39 637.38,224.33 638.74,224.27 640.11,224.21 641.47,224.15 642.84,224.09 644.20,224.03 645.56,223.97 646.93,223.91 648.29,223.86 649.66,223.80 651.02,223.74 652.39,223.69 653.75,223.63 655.12,223.58 656.48,223.53 657.85,223.47 659.21,223.42 660.58,223.37 661.94,223.32 663.31,223.27 664.67,223.21 666.04,223.16 667.40,223.11 668.77,223.07 670.13,223.02 671.50,222.97 672.86,222.92 674.22,222.87 675.59,222.82 676.95,222.78 678.32,222.73 679.68,222.68 681.05,222.64 682.41,222.59 683.78,222.55 685.14,222.50 753.38,222.50"/>
</g>
<path d="M71.5 34.5H788.5M71.5 34.5V488" stroke="#5e5e5e" stroke-width="1" fill="none"/>
<path d="M71 488.5H788.5V35" stroke="#7c7c7c" stroke-width="1" fill="none"/>
<path d="M67.5 34V489M71 492.5H789" stroke="#c0c0c0" stroke-width="1" fill="none"/>
<path d="M65 488.5H67.5 M65 457.5H67.5 M65 427.5H67.5 M65 397.5H67.5 M65 367.5H67.5 M65 336.5H67.5 M65 306.5H67.5 M65 276.5H67.5 M65 246.5H67.5 M65 215.5H67.5 M65 185.5H67.5 M65 155.5H67.5 M65 125.5H67.5 M65 94.5H67.5 M65 64.5H67.5 M65 34.5H67.5 M71.5 492.5V495 M139.5 492.5V495 M207.5 492.5V495 M275.5 492.5V495 M344.5 492.5V495 M412.5 492.5V495 M480.5 492.5V495 M548.5 492.5V495 M617.5 492.5V495 M685.5 492.5V495 M753.5 492.5V495" stroke="#b0b0b0" stroke-width="1" fill="none"/>
<g font-size="12.5" fill="#404040">
<text x="33.5" y="492.60" textLength="26.5" lengthAdjust="spacingAndGlyphs">0.00</text>
<text x="33.5" y="462.33" textLength="26.5" lengthAdjust="spacingAndGlyphs">0.05</text>
<text x="33.5" y="432.07" textLength="26.5" lengthAdjust="spacingAndGlyphs">0.10</text>
<text x="33.5" y="401.80" textLength="26.5" lengthAdjust="spacingAndGlyphs">0.15</text>
<text x="33.5" y="371.53" textLength="26.5" lengthAdjust="spacingAndGlyphs">0.20</text>
<text x="33.5" y="341.27" textLength="26.5" lengthAdjust="spacingAndGlyphs">0.25</text>
<text x="33.5" y="311.00" textLength="26.5" lengthAdjust="spacingAndGlyphs">0.30</text>
<text x="33.5" y="280.73" textLength="26.5" lengthAdjust="spacingAndGlyphs">0.35</text>
<text x="33.5" y="250.47" textLength="26.5" lengthAdjust="spacingAndGlyphs">0.40</text>
<text x="33.5" y="220.20" textLength="26.5" lengthAdjust="spacingAndGlyphs">0.45</text>
<text x="33.5" y="189.93" textLength="26.5" lengthAdjust="spacingAndGlyphs">0.50</text>
<text x="33.5" y="159.67" textLength="26.5" lengthAdjust="spacingAndGlyphs">0.55</text>
<text x="33.5" y="129.40" textLength="26.5" lengthAdjust="spacingAndGlyphs">0.60</text>
<text x="33.5" y="99.13" textLength="26.5" lengthAdjust="spacingAndGlyphs">0.65</text>
<text x="33.5" y="68.87" textLength="26.5" lengthAdjust="spacingAndGlyphs">0.70</text>
<text x="33.5" y="38.60" textLength="26.5" lengthAdjust="spacingAndGlyphs">0.75</text>
<text x="67.25" y="508" textLength="7.5" lengthAdjust="spacingAndGlyphs">0</text>
<text x="131.74" y="508" textLength="15" lengthAdjust="spacingAndGlyphs">50</text>
<text x="195.73" y="508" textLength="23.5" lengthAdjust="spacingAndGlyphs">100</text>
<text x="263.96" y="508" textLength="23.5" lengthAdjust="spacingAndGlyphs">150</text>
<text x="332.20" y="508" textLength="23.5" lengthAdjust="spacingAndGlyphs">200</text>
<text x="400.44" y="508" textLength="23.5" lengthAdjust="spacingAndGlyphs">250</text>
<text x="468.68" y="508" textLength="23.5" lengthAdjust="spacingAndGlyphs">300</text>
<text x="536.92" y="508" textLength="23.5" lengthAdjust="spacingAndGlyphs">350</text>
<text x="605.15" y="508" textLength="23.5" lengthAdjust="spacingAndGlyphs">400</text>
<text x="673.39" y="508" textLength="23.5" lengthAdjust="spacingAndGlyphs">450</text>
<text x="741.63" y="508" textLength="23.5" lengthAdjust="spacingAndGlyphs">500</text>
</g>
<text x="397" y="526.5" font-size="14.5" fill="#404040" stroke="#404040" stroke-width="0.3" textLength="66" lengthAdjust="spacingAndGlyphs">iteration</text>
<g font-size="14.5" fill="#404040" stroke="#404040" stroke-width="0.3">
<text transform="translate(24.5,351.18) rotate(-90)" textLength="44.23" lengthAdjust="spacingAndGlyphs">mode</text>
<text transform="translate(24.5,300.75) rotate(-90)" textLength="50.80" lengthAdjust="spacingAndGlyphs">choice</text>
<text transform="translate(24.5,244.55) rotate(-90)" textLength="73.35" lengthAdjust="spacingAndGlyphs">coverage</text>
</g>
<path d="M227.0 588.5h15" stroke="#ff5555" stroke-width="1"/>
<text x="246.00" y="592" font-size="12.5" fill="#404040" textLength="12.00" lengthAdjust="spacingAndGlyphs">pt</text>
<path d="M264.0 588.5h15" stroke="#5555ff" stroke-width="1"/>
<text x="283.25" y="592" font-size="12.5" fill="#404040" textLength="19.75" lengthAdjust="spacingAndGlyphs">car</text>
<path d="M308.2 588.5h15" stroke="#55ff55" stroke-width="1"/>
<text x="326.60" y="592" font-size="12.5" fill="#404040" textLength="41.00" lengthAdjust="spacingAndGlyphs">freight</text>
<path d="M373.0 588.5h15" stroke="#ffff55" stroke-width="1"/>
<text x="391.70" y="592" font-size="12.5" fill="#404040" textLength="32.20" lengthAdjust="spacingAndGlyphs">truck</text>
<path d="M429.0 588.5h15" stroke="#ff55ff" stroke-width="1"/>
<text x="447.90" y="592" font-size="12.5" fill="#404040" textLength="24.00" lengthAdjust="spacingAndGlyphs">ride</text>
<path d="M477.4 588.5h15" stroke="#55ffff" stroke-width="1"/>
<text x="495.50" y="592" font-size="12.5" fill="#404040" textLength="28.00" lengthAdjust="spacingAndGlyphs">walk</text>
<path d="M528.0 588.5h15" stroke="#ffafaf" stroke-width="1"/>
<text x="546.90" y="592" font-size="12.5" fill="#404040" textLength="26.00" lengthAdjust="spacingAndGlyphs">bike</text>
<defs><linearGradient id="sh" x1="0" y1="0" x2="1" y2="0"><stop offset="0" stop-color="#eeeeee"/><stop offset="1" stop-color="#ffffff"/></linearGradient></defs>
<rect x="735.5" y="540.3" width="30" height="8.2" fill="url(#sh)"/>
<g fill="#fff" stroke="#6b93cf" stroke-width="1.45" stroke-linejoin="miter">
<path d="M605.5 542.5L617.7 542.5L622.3 561.3L627.7 542.5L639.7 542.5L640.8 574.3L632.7 574.3L631.9 550.3L625 573.3L619.3 573.3L613 550.3L612 574.3L603.7 574.3Z"/>
<path d="M652.3 542.5L664.3 542.5L674 574.3L664.3 574.3L662.7 567.1L654 567.1L652.3 574.3L643 574.3ZM658 549L654.7 560.3L661.3 560.3Z"/>
<path d="M670.7 542.5L696.3 542.5L696.3 550L688.3 550L688 574.3L679 574.3L679 550L670.7 550Z"/>
<path d="M740.7 574.1L740.7 550.3L748.4 550.3L748.4 553.6C750 551 752.5 550 755.5 550C758.5 550 761 551.5 762 554C763.5 551.3 765.5 550 768.5 550C774.5 550 777.4 553 777.4 558L777.4 574.1L769.3 574.1L769.3 561C769.3 558.5 768 557.3 766.4 557.3C764.6 557.3 763.4 558.5 763.4 561L763.4 574.1L755 574.1L755 561C755 558.5 753.7 557.3 752 557.3C750.3 557.3 749.1 558.5 749.1 561L749.1 574.1Z"/>
<rect x="726.5" y="550.7" width="9.2" height="23.8"/>
<circle cx="731.1" cy="544.5" r="4.35"/>
</g>
<path d="M721.3 547.1L720.1 546.8C717.5 546.1 714.5 545.9 711 545.9C706.3 545.9 703.2 548.3 703.2 551.5C703.2 555.3 706.8 556.7 710.5 558C714.5 559.4 717.6 561 717.6 564.6C717.6 568.2 714.6 570.3 709.6 570.3C706 570.3 702.5 569.7 699.6 569L698.4 568.7" fill="none" stroke="#6b93cf" stroke-width="9.90"/>
<path d="M720.1 546.8C717.5 546.1 714.5 545.9 711 545.9C706.3 545.9 703.2 548.3 703.2 551.5C703.2 555.3 706.8 556.7 710.5 558C714.5 559.4 717.6 561 717.6 564.6C717.6 568.2 714.6 570.3 709.6 570.3C706 570.3 702.5 569.7 699.6 569" fill="none" stroke="#fff" stroke-width="7.00"/>
</svg></body></html>
